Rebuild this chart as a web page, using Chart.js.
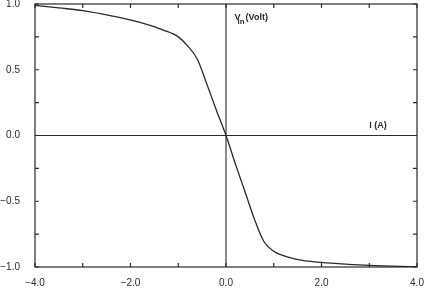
<!DOCTYPE html>
<html>
<head>
<meta charset="utf-8">
<script src="https://cdn.jsdelivr.net/npm/chart.js@4"></script>
<style>
  html, body { margin: 0; padding: 0; background: #fff; }
  #wrap { width: 428px; height: 292px; }
</style>
</head>
<body>
<div id="wrap"><canvas id="c"></canvas></div>
<script>
  // I (A) vs V_in (Volt)
  const currentA = [-4.0, -3.5, -3.0, -2.4, -1.8, -1.3, -1.0, -0.8, -0.6, -0.4, -0.2, 0.0,
                    0.2, 0.4, 0.6, 0.8, 1.0, 1.3, 1.6, 2.0, 2.5, 3.0, 3.5, 4.0];
  const voltage = [0.99, 0.97, 0.95, 0.91, 0.86, 0.80, 0.75, 0.68, 0.58, 0.39, 0.19, 0.0,
                   -0.22, -0.43, -0.64, -0.81, -0.88, -0.925, -0.95, -0.965, -0.978, -0.988, -0.993, -1.0];
  const xAxisLine = [[-4, 0], [4, 0]];
  const yAxisLine = [[0, -1], [0, 1]];
  const xTickLabels = ["\u22124.0", "\u22122.0", "0.0", "2.0", "4.0"];
  const yTickLabels = ["1.0", "0.5", "0.0", "\u22120.5", "\u22121.0"];

  const ink = "#2a2a2a";
  const toPts = (xs, ys) => xs.map((x, i) => ({ x, y: ys[i] }));

  const frameAndTicks = {
    id: "frameAndTicks",
    afterDraw(chart) {
      const { ctx, chartArea: a, scales } = chart;
      ctx.save();
      ctx.strokeStyle = ink;
      ctx.lineWidth = 1.2;
      ctx.strokeRect(a.left, a.top, a.right - a.left, a.bottom - a.top);
      ctx.beginPath();
      scales.x.ticks.forEach((t) => {
        const px = scales.x.getPixelForValue(t.value);
        ctx.moveTo(px, a.bottom); ctx.lineTo(px, a.bottom - 4);
        ctx.moveTo(px, a.top); ctx.lineTo(px, a.top + 4);
      });
      scales.y.ticks.forEach((t) => {
        const py = scales.y.getPixelForValue(t.value);
        ctx.moveTo(a.left, py); ctx.lineTo(a.left + 4, py);
        ctx.moveTo(a.right, py); ctx.lineTo(a.right - 4, py);
      });
      ctx.stroke();

      // axis captions
      ctx.fillStyle = ink;
      ctx.textBaseline = "alphabetic";
      ctx.font = "bold 9px 'Liberation Sans', sans-serif";
      let px = scales.x.getPixelForValue(0.18);
      let py = scales.y.getPixelForValue(0.88);
      ctx.fillText("V", px, py);
      ctx.font = "bold 8px 'Liberation Sans', sans-serif";
      ctx.fillText("in", px + 3, py + 4);
      ctx.font = "bold 9px 'Liberation Sans', sans-serif";
      ctx.fillText("(Volt)", px + 11, py);
      px = scales.x.getPixelForValue(3.0);
      py = scales.y.getPixelForValue(0.055);
      ctx.fillText("I (A)", px, py);
      ctx.restore();
    },
  };

  new Chart(document.getElementById("c"), {
    type: "line",
    data: {
      datasets: [
        {
          data: toPts(currentA, voltage),
          borderColor: ink,
          borderWidth: 1.3,
          pointRadius: 0,
          cubicInterpolationMode: "monotone",
        },
        {
          data: xAxisLine.map(([x, y]) => ({ x, y })),
          borderColor: ink,
          borderWidth: 1.1,
          pointRadius: 0,
        },
        {
          data: yAxisLine.map(([x, y]) => ({ x, y })),
          borderColor: ink,
          borderWidth: 1.1,
          pointRadius: 0,
        },
      ],
    },
    options: {
      responsive: true,
      maintainAspectRatio: false,
      animation: false,
      layout: { padding: { left: 0, right: 11, top: 4, bottom: 0 } },
      plugins: { legend: { display: false }, tooltip: { enabled: false } },
      scales: {
        x: {
          type: "linear",
          min: -4,
          max: 4,
          grid: { display: false },
          border: { display: false },
          afterFit: (s) => { s.height = 25; s.paddingLeft = 0; s.paddingRight = 0; },
          ticks: {
            stepSize: 1,
            padding: 2,
            color: ink,
            font: { family: "'Liberation Sans', sans-serif", size: 10 },
            maxRotation: 0,
            autoSkip: false,
            callback: (v) => (v % 2 === 0 ? xTickLabels[(v + 4) / 2] : ""),
          },
        },
        y: {
          type: "linear",
          min: -1,
          max: 1,
          grid: { display: false },
          border: { display: false },
          afterFit: (s) => { s.width = 35; s.paddingTop = 0; s.paddingBottom = 0; },
          ticks: {
            stepSize: 0.25,
            padding: 7,
            color: ink,
            font: { family: "'Liberation Sans', sans-serif", size: 10 },
            autoSkip: false,
            callback: (v) => {
              const k = Math.round((1 - v) / 0.5);
              return Math.abs(v * 2 - Math.round(v * 2)) < 1e-6 ? yTickLabels[k] : "";
            },
          },
        },
      },
    },
    plugins: [frameAndTicks],
  });
</script>
</body>
</html>
